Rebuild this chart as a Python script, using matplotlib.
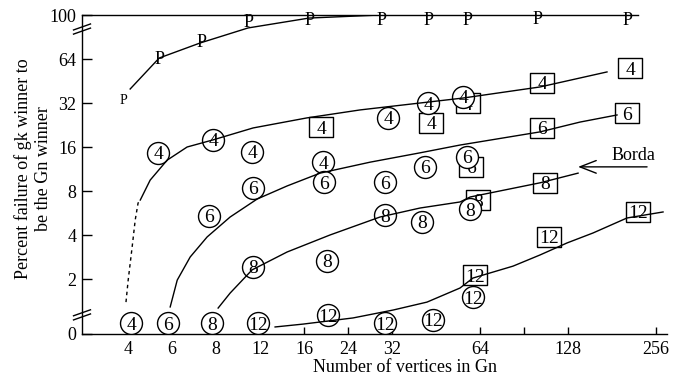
import numpy as np
import matplotlib.pyplot as plt
from matplotlib.ticker import NullLocator

plt.rcParams['font.family'] = ['Liberation Serif', 'DejaVu Serif']
plt.rcParams['font.size'] = 13

# P (plurality) points and curve
p_x = [3.9, 5.41, 7.32, 10.9, 16.9, 30, 45.4, 59.6, 105.5, 215]
p_y = [33.5, 63, 77.9, 93.5, 95.1, 95.9, 95.9, 95.9, 96.7, 95.9]
pc_x = [4.09, 5.41, 7.27, 10.9, 16.9, 29.8, 45.1]
pc_y = [39.9, 64.8, 77.1, 89.4, 97.5, 100, 100]

# k = 4 curve (dashed start, then solid)
c4d_x = [3.95, 4.0, 4.18, 4.32, 4.45, 4.55]
c4d_y = [0.95, 1.95, 3.31, 5.07, 6.62, 6.94]
c4_x = [4.55, 5.0, 5.77, 6.68, 7.86, 11.36, 16.5, 26.2, 42.2, 57.8, 107.6, 184.7]
c4_y = [6.94, 9.5, 13.0, 16, 17.9, 21.6, 25.3, 28.7, 32, 34.6, 41.2, 52.2]

# k = 6 curve
c6_x = [5.91, 6.23, 6.82, 7.59, 9.27, 11.73, 14.45, 18.9, 28, 42.2, 56.7, 107.6, 145.5, 199.3]
c6_y = [0.73, 1.95, 2.83, 3.88, 5.31, 7.05, 8.66, 10.6, 12.6, 14.6, 16.5, 20.3, 23.7, 26.5]

# k = 8 curve (Borda)
c8_x = [8.18, 9.27, 11.27, 14.45, 20.7, 29.8, 42.2, 56.7, 60.4, 107.6, 142.6]
c8_y = [0.68, 1.36, 2.31, 3.06, 4.0, 5.31, 6.12, 6.73, 7.28, 9.1, 10.6]

# k = 12 curve
c12_x = [13.36, 15.9, 24.9, 32.4, 44.7, 56.7, 61.4, 88, 107.6, 127.3, 164.4, 213.8, 276.5]
c12_y = [-0.18, -0.05, 0.23, 0.59, 0.95, 1.59, 2.03, 2.45, 2.92, 3.53, 4.13, 5.23, 5.75]

# circled points
o4_x = [4.14, 5.36, 7.86, 11.27, 19.5, 31.3, 45.1, 57.8]
o4_y = [0, 14.6, 17.9, 14.8, 12.6, 25.3, 32, 35.2]
o6_x = [5.82, 7.68, 11.36, 19.6, 30.7, 44, 59.3]
o6_y = [0, 5.4, 8.4, 9.2, 9.2, 11.7, 13.7]
o8_x = [7.82, 11.36, 20.2, 30.7, 42.9, 60.4]
o8_y = [0, 2.42, 2.66, 5.48, 4.91, 6.02]
o12_x = [11.82, 20.4, 30.7, 46.9, 61.4]
o12_y = [0, 0.36, 0, 0.14, 1.18]

# boxed points
s4_x = [19.1, 46.2, 59.6, 109.1, 218.2]
s4_y = [21.9, 23.4, 32, 43.9, 55.5]
s6_x = [60.7, 109.1, 213.8]
s6_y = [11.7, 21.6, 27.3]
s8_x = [63.3, 111.3]
s8_y = [6.94, 9.1]
s12_x = [62.2, 114.2, 229.8]
s12_y = [2.13, 3.88, 5.75]

x_ticks = [4, 6, 8, 12, 16, 24, 32, 64, 96, 128, 256]
x_labels = ['4', '6', '8', '12', '16', '24', '32', '64', '', '128', '256']
y_ticks = [-0.5, 2, 4, 8, 16, 32, 64, 100]
y_labels = ['0', '2', '4', '8', '16', '32', '64', '100']


# x axis: linear inside each doubling
def fwd_x(x):
    x = np.maximum(np.asarray(x, float), 1e-9)
    k = np.floor(np.log2(x))
    return k + x / 2**k - 1


def inv_x(u):
    u = np.asarray(u, float)
    k = np.floor(u)
    return 2**k * (1 + u - k)


# y axis: log2 from 2 to 64, linear below 2 and above 64
def fwd_y(v):
    v = np.asarray(v, float)
    mid = np.log2(np.clip(v, 2, 64))
    return np.where(v <= 2, v / 2, np.where(v <= 64, mid, 6 + (v - 64) / 36))


def inv_y(p):
    p = np.asarray(p, float)
    mid = 2 ** np.clip(p, 1, 6)
    return np.where(p <= 1, 2 * p, np.where(p <= 6, mid, 64 + 36 * (p - 6)))


fig = plt.figure(figsize=(6.83, 3.82), dpi=100)
ax = fig.add_axes([82 / 683, 48 / 382, 585 / 683, 319 / 382])
ax.set_xscale('function', functions=(fwd_x, inv_x))
ax.set_yscale('function', functions=(fwd_y, inv_y))
ax.set_xlim(2.95, 288)
ax.set_ylim(-0.5, 100)

lw = 1.0
ax.plot(pc_x, pc_y, color='black', lw=lw, zorder=6)
ax.plot(c4d_x, c4d_y, color='black', lw=lw, ls=(0, (2.5, 2.5)), zorder=6)
for cx, cy in [(c4_x, c4_y), (c6_x, c6_y), (c8_x, c8_y), (c12_x, c12_y)]:
    ax.plot(cx, cy, color='black', lw=lw, zorder=6)

rect = [(-1.2, -1), (1.2, -1), (1.2, 1), (-1.2, 1), (-1.2, -1)]


def marks(xs, ys, label, marker, size, z):
    ax.scatter(xs, ys, s=size, marker=marker, facecolors='white',
               edgecolors='black', linewidths=1.0, zorder=z)
    for xi, yi in zip(xs, ys):
        ax.text(xi, yi, label, ha='center', va='center_baseline',
                fontsize=14, zorder=z + 0.1)


for xs, ys, lab in [(s4_x, s4_y, '4'), (s6_x, s6_y, '6'), (s8_x, s8_y, '8')]:
    marks(xs, ys, lab, rect, 300, 3)
for xs, ys, lab in [(o4_x, o4_y, '4'), (o6_x, o6_y, '6'),
                    (o8_x, o8_y, '8'), (o12_x, o12_y, '12')]:
    marks(xs, ys, lab, 'o', 250, 4)
marks(s12_x, s12_y, '12', rect, 300, 5)

for i, (xi, yi) in enumerate(zip(p_x, p_y)):
    ax.text(xi, yi, 'P', ha='center', va='center',
            fontsize=10 if i == 0 else 13, zorder=5)

ax.text(222.6, 14.1, 'Borda', ha='center', va='center')
ax.annotate('', xy=(142.6, 11.7), xytext=(243, 11.7),
            arrowprops=dict(arrowstyle='->,head_length=0.9,head_width=0.35',
                            lw=1, color='black', shrinkA=0, shrinkB=0))

ax.set_xticks(x_ticks)
ax.set_xticklabels(x_labels)
ax.set_yticks(y_ticks)
ax.set_yticklabels(y_labels)
ax.xaxis.set_minor_locator(NullLocator())
ax.yaxis.set_minor_locator(NullLocator())
ax.tick_params(axis='x', direction='in', length=5, width=1, pad=5)
ax.tick_params(axis='y', direction='in', length=7, width=1, pad=4)

ax.spines['right'].set_visible(False)
ax.spines['top'].set_bounds(2.95, 229.8)
for s in ax.spines.values():
    s.set_linewidth(1.0)

# axis break marks
for yc in (0.956, 0.06):
    for off in (-0.0065, 0.0065):
        ax.plot([-0.0145, 0.0145], [yc + off - 0.0094, yc + off + 0.0094],
                transform=ax.transAxes, color='black', lw=1, clip_on=False)

fig.text(33 / 683, 1 - 169 / 382, 'Percent failure of gk winner to\nbe the Gn winner',
         rotation=90, ha='center', va='center', fontsize=13, linespacing=1.2)
fig.text(405 / 683, 1 - 367 / 382, 'Number of vertices in Gn',
         ha='center', va='center', fontsize=13)

fig.savefig('out.png', dpi=100)
